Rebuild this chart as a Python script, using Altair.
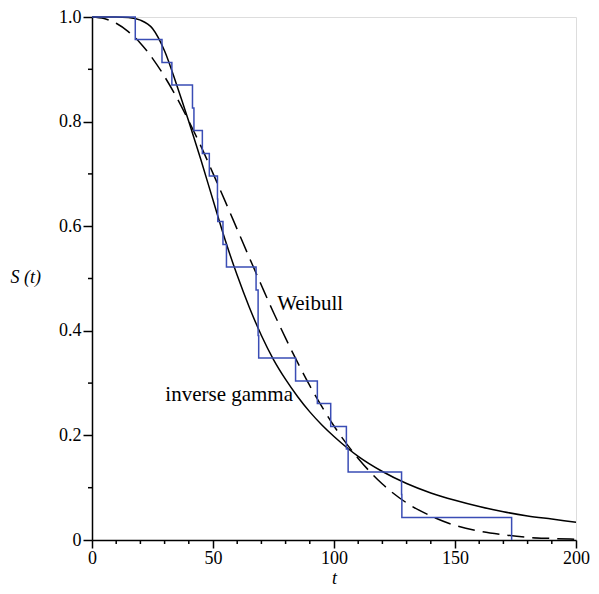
import altair as alt
import pandas as pd

# Kaplan-Meier estimate (event times, survival after each step)
km_t = [0, 17.88, 28.92, 33.00, 41.52, 42.12, 45.60, 48.48, 51.84, 51.96, 54.12, 55.56,
        67.80, 68.64, 68.88, 84.12, 93.12, 98.64, 105.12, 105.84, 127.92, 128.04, 173.40]
km_s = [1.0, 0.957, 0.913, 0.870, 0.826, 0.783, 0.739, 0.696, 0.652, 0.609, 0.565, 0.522,
        0.478, 0.391, 0.348, 0.304, 0.261, 0.217, 0.174, 0.130, 0.087, 0.043, 0.0]

# Fitted curves
curve_t = [0, 5, 10, 15, 20, 25, 30, 35, 40, 45, 50, 55, 60, 65, 70, 75, 80, 85, 90, 95, 100,
           110, 120, 130, 140, 150, 160, 170, 180, 190, 200]
weib_s = [1.0, 0.997, 0.988, 0.972, 0.950, 0.921, 0.886, 0.846, 0.801, 0.753, 0.701, 0.648,
          0.594, 0.540, 0.487, 0.435, 0.386, 0.339, 0.295, 0.255, 0.218,
          0.156, 0.107, 0.071, 0.046, 0.028, 0.017, 0.010, 0.005, 0.003, 0.0015]
igam_s = [1.0, 1.0, 1.0, 0.999, 0.994, 0.978, 0.935, 0.870, 0.800, 0.727, 0.650, 0.574,
          0.506, 0.445, 0.391, 0.345, 0.307, 0.274, 0.245, 0.220, 0.198,
          0.160, 0.131, 0.108, 0.090, 0.076, 0.064, 0.054, 0.046, 0.040, 0.034]

x_major = [0, 50, 100, 150, 200]
x_minor = [10, 20, 30, 40, 60, 70, 80, 90, 110, 120, 130, 140, 160, 170, 180, 190]
y_major = [0, 0.2, 0.4, 0.6, 0.8, 1.0]
y_minor = [0.1, 0.3, 0.5, 0.7, 0.9]

label_text = ["Weibull", "inverse gamma"]
label_t = [76.5, 30.3]
label_s = [0.452, 0.277]

km = pd.DataFrame({"t": km_t, "S": km_s})
weib = pd.DataFrame({"t": curve_t, "S": weib_s})
igam = pd.DataFrame({"t": curve_t, "S": igam_s})
xmin = pd.DataFrame({"t": x_minor})
ymin = pd.DataFrame({"S": y_minor})
labels = pd.DataFrame({"t": label_t, "S": label_s, "txt": label_text})

FONT = "Liberation Serif"
W, H = 484, 523
xscale = alt.Scale(domain=[0, 200], nice=False, zero=False)
yscale = alt.Scale(domain=[0, 1], nice=False, zero=False)

xaxis = alt.Axis(values=x_major, title="t", grid=False, domainColor="black", domainWidth=1.5,
                 tickColor="black", tickWidth=1.5, tickSize=8, labelFont=FONT, labelFontSize=18,
                 labelColor="black", labelPadding=1, labelFlush=False, titleFont=FONT,
                 titleFontSize=18, titleFontStyle="italic", titleFontWeight="normal",
                 titleColor="black", titlePadding=2)
yaxis = alt.Axis(values=y_major, title="S (t)", grid=False, domainColor="black", domainWidth=1.5,
                 tickColor="black", tickWidth=1.5, tickSize=9, labelFont=FONT, labelFontSize=18,
                 labelColor="black", labelPadding=2, labelFlush=False,
                 labelExpr="datum.value == 0 ? '0' : format(datum.value, '.1f')",
                 titleFont=FONT, titleFontSize=18, titleFontStyle="italic",
                 titleFontWeight="normal", titleColor="black", titleAngle=0,
                 titleAlign="left", titleBaseline="middle", titleX=-82, titleY=260)

X = alt.X("t:Q", scale=xscale, axis=xaxis)
Y = alt.Y("S:Q", scale=yscale, axis=yaxis)

km_line = alt.Chart(km).mark_line(interpolate="step-after", color="#3a4db5", strokeWidth=1.5).encode(x=X, y=Y)
weib_line = alt.Chart(weib).mark_line(interpolate="monotone", color="black", strokeWidth=1.5,
                                      strokeDash=[17, 8]).encode(x=X, y=Y)
igam_line = alt.Chart(igam).mark_line(interpolate="monotone", color="black", strokeWidth=1.5).encode(x=X, y=Y)

xminor = alt.Chart(xmin).mark_rule(color="black", strokeWidth=1.5).encode(
    x=X, y=alt.value(H), y2=alt.value(H + 4))
yminor = alt.Chart(ymin).mark_rule(color="black", strokeWidth=1.5).encode(
    y=Y, x=alt.value(0), x2=alt.value(-4))

text = alt.Chart(labels).mark_text(font=FONT, fontSize=21, align="left", baseline="middle",
                                   color="black").encode(x=X, y=Y, text="txt:N")

chart = alt.layer(igam_line, weib_line, km_line, xminor, yminor, text).properties(
    width=W, height=H,
    autosize=alt.AutoSizeParams(type="none"),
    padding={"left": 84, "top": 9, "right": 15, "bottom": 48},
).configure_view(stroke=None).configure(background="white")

chart.save("out.html", embed_options={"renderer": "svg", "actions": False})
